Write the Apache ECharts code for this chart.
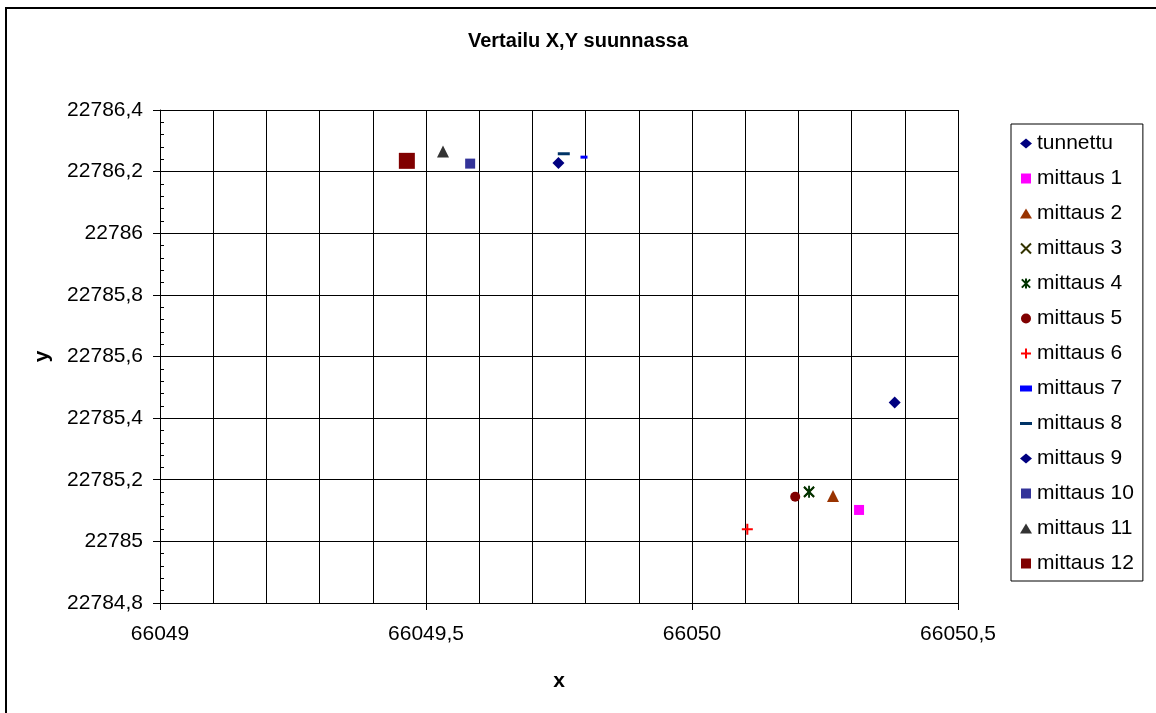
<!DOCTYPE html>
<html>
<head>
<meta charset="utf-8">
<script src="https://cdn.jsdelivr.net/npm/echarts@6/dist/echarts.min.js"></script>
<style>
  html, body { margin: 0; padding: 0; background: #fff; }
  #chart { width: 1156px; height: 713px; }
</style>
</head>
<body>
<div id="chart"></div>
<script>
// values
const seriesNames = ['tunnettu', 'mittaus 1', 'mittaus 2', 'mittaus 3', 'mittaus 4', 'mittaus 5',
  'mittaus 6', 'mittaus 7', 'mittaus 8', 'mittaus 9', 'mittaus 10', 'mittaus 11', 'mittaus 12'];
const xValues = [66050.381, 66050.314, 66050.265, 66050.22, 66050.22, 66050.194,
  66050.104, 66049.797, 66049.759, 66049.749, 66049.583, 66049.532, 66049.464];
const yValues = [22785.451, 22785.102, 22785.147, 22785.16, 22785.161, 22785.145,
  22785.039, 22786.247, 22786.258, 22786.228, 22786.226, 22786.265, 22786.235];

// marker styles (excel-ish)
const X_PATH = 'path://M0,0L10,10M10,0L0,10';
const STAR_PATH = 'path://M0,1L10,11M10,1L0,11M5,0L5,12';
const PLUS_PATH = 'path://M5,0L5,10M0,5L10,5';
const SQ = 'path://M0,0h10v10h-10z';
const markers = [
  { symbol: 'diamond', size: 12, color: '#000080', icon: 'diamond' },
  { symbol: 'rect', size: 10, color: '#FF00FF', icon: SQ },
  { symbol: 'triangle', size: 12, color: '#993300', icon: 'triangle' },
  { symbol: X_PATH, size: 10, color: '#333300', stroke: true, icon: X_PATH },
  { symbol: STAR_PATH, size: [10, 12], color: '#003300', stroke: true, icon: STAR_PATH },
  { symbol: 'circle', size: 10, color: '#800000', icon: 'circle' },
  { symbol: PLUS_PATH, size: 11, color: '#FF0000', stroke: true, icon: PLUS_PATH },
  { symbol: 'rect', size: [7, 3], color: '#0000FF', icon: 'path://M0,0h6v3h-6z' },
  { symbol: 'rect', size: [12, 3], color: '#003366', icon: 'path://M0,0h12v3h-12z' },
  { symbol: 'diamond', size: 12, color: '#000080', icon: 'diamond' },
  { symbol: 'rect', size: 10, color: '#333399', icon: SQ },
  { symbol: 'triangle', size: 12, color: '#333333', icon: 'triangle' },
  { symbol: 'rect', size: 16, color: '#800000', icon: SQ }
];

const fmt = v => String(+v.toFixed(2)).replace('.', ',');
const FONT = 'Liberation Sans, Arial, sans-serif';

function styleOf(m) {
  return m.stroke
    ? { color: 'transparent', borderColor: m.color, borderWidth: 2, opacity: 1 }
    : { color: m.color, opacity: 1 };
}

const series = seriesNames.map((name, i) => ({
  name: name,
  type: 'scatter',
  symbol: markers[i].symbol,
  symbolSize: markers[i].size,
  itemStyle: styleOf(markers[i]),
  data: [[xValues[i], yValues[i]]]
}));

const chart = echarts.init(document.getElementById('chart'));
chart.setOption({
  animation: false,
  backgroundColor: '#fff',
  textStyle: { fontFamily: FONT },
  title: {
    text: 'Vertailu X,Y suunnassa',
    left: 'center',
    top: 31,
    padding: 0,
    textStyle: { fontFamily: FONT, fontSize: 20, fontWeight: 'bold', color: '#000' }
  },
  legend: {
    orient: 'vertical',
    left: 1011,
    top: 124,
    padding: [9, 9, 7, 9],
    itemGap: 14,
    itemWidth: 12,
    itemHeight: 10,
    itemTextGap: 6,
    borderColor: '#000',
    borderWidth: 1,
    textStyle: { fontFamily: FONT, fontSize: 21, color: '#000', lineHeight: 21 },
    data: seriesNames.map((name, i) => ({
      name: name,
      icon: markers[i].icon,
      itemStyle: styleOf(markers[i])
    }))
  },
  grid: { left: 160, right: 198, top: 110, bottom: 110 },
  xAxis: {
    type: 'value',
    min: 66049,
    max: 66050.5,
    interval: 0.5,
    name: 'x',
    nameLocation: 'middle',
    nameGap: 68,
    nameTextStyle: { fontFamily: FONT, fontSize: 21, fontWeight: 'bold', color: '#000' },
    axisLine: { lineStyle: { color: '#000', width: 1 } },
    axisTick: { length: 7, lineStyle: { color: '#000' } },
    axisLabel: { margin: 21, fontFamily: FONT, fontSize: 21, color: '#000', formatter: fmt },
    splitLine: { show: true, lineStyle: { color: '#000', width: 1 } },
    minorTick: { show: false, splitNumber: 5 },
    minorSplitLine: { show: true, lineStyle: { color: '#000', width: 1 } }
  },
  yAxis: [{
    type: 'value',
    min: 22784.8,
    max: 22786.4,
    interval: 0.2,
    name: 'y',
    nameLocation: 'middle',
    nameGap: 107,
    nameTextStyle: { fontFamily: FONT, fontSize: 21, fontWeight: 'bold', color: '#000' },
    axisLine: { show: true, lineStyle: { color: '#000', width: 1 } },
    axisTick: { show: true, length: 7, lineStyle: { color: '#000' } },
    axisLabel: { margin: 17, fontFamily: FONT, fontSize: 21, color: '#000', formatter: fmt },
    splitLine: { show: true, lineStyle: { color: '#000', width: 1 } }
  }, {
    // only the small ticks pointing into the plot, placed on the left edge
    type: 'value',
    position: 'right',
    offset: -798,
    min: 22784.8,
    max: 22786.4,
    interval: 0.04,
    axisLine: { show: false },
    axisTick: { show: true, length: 4, lineStyle: { color: '#000' } },
    axisLabel: { show: false },
    splitLine: { show: false }
  }],
  graphic: [{
    type: 'rect',
    shape: { x: 6, y: 8, width: 1300, height: 900 },
    style: { fill: 'none', stroke: '#000', lineWidth: 2 },
    silent: true
  }],
  series: series
});
</script>
</body>
</html>
